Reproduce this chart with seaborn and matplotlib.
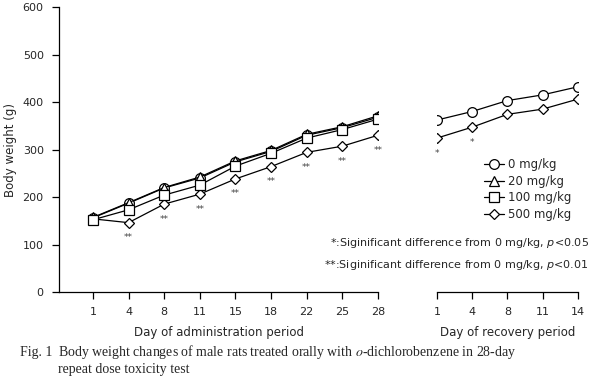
import matplotlib
matplotlib.use("Agg")
import matplotlib.pyplot as plt
import seaborn as sns
import numpy as np
from matplotlib.lines import Line2D

# ---------------- data ----------------
admin_days = ["1", "4", "8", "11", "15", "18", "22", "25", "28"]
recov_days = ["1", "4", "8", "11", "14"]

admin_0 = [156, 187, 219, 240, 274, 296, 330, 346, 368]
admin_20 = [157, 188, 220, 242, 276, 298, 332, 348, 371]
admin_100 = [152, 173, 204, 225, 265, 292, 324, 342, 364]
admin_500 = [154, 146, 185, 206, 238, 264, 294, 307, 330]

recov_0 = [362, 380, 403, 415, 432]
recov_500 = [324, 347, 374, 385, 406]

admin_sig_500 = ["", "**", "**", "**", "**", "**", "**", "**", "**"]
recov_sig_500 = ["*", "*", "", "", ""]

doses = ["0 mg/kg", "20 mg/kg", "100 mg/kg", "500 mg/kg"]
markers = {"0 mg/kg": "o", "20 mg/kg": "^", "100 mg/kg": "s", "500 mg/kg": "D"}
msizes = {"0 mg/kg": 7, "20 mg/kg": 7, "100 mg/kg": 6.5, "500 mg/kg": 5.5}

sns.set_theme(style="ticks")
plt.rcParams["font.family"] = ["DejaVu Sans"]

fig = plt.figure(figsize=(5.92, 3.81), dpi=100)
axL = fig.add_axes([0.0997, 0.2336, 0.5388, 0.748])
axR = fig.add_axes([0.738, 0.2336, 0.238, 0.748])

idxL = np.arange(len(admin_days))
idxR = np.arange(len(recov_days))

admin_series = {"0 mg/kg": admin_0, "20 mg/kg": admin_20,
                "100 mg/kg": admin_100, "500 mg/kg": admin_500}
recov_series = {"0 mg/kg": recov_0, "500 mg/kg": recov_500}

for d in ["500 mg/kg", "0 mg/kg", "20 mg/kg", "100 mg/kg"]:
    sns.lineplot(x=idxL, y=admin_series[d], ax=axL, color="black", lw=0.9,
                 marker=markers[d], markersize=msizes[d], markerfacecolor="white",
                 markeredgecolor="black", markeredgewidth=0.9)
for d in ["500 mg/kg", "0 mg/kg"]:
    sns.lineplot(x=idxR, y=recov_series[d], ax=axR, color="black", lw=0.9,
                 marker=markers[d], markersize=msizes[d], markerfacecolor="white",
                 markeredgecolor="black", markeredgewidth=0.9)

# significance marks
for i, s in enumerate(admin_sig_500):
    if s:
        axL.text(i, admin_500[i] - 22, s, ha="center", va="top", fontsize=6.5, color="#444444")
for i, s in enumerate(recov_sig_500):
    if s:
        axR.text(i, recov_500[i] - 22, s, ha="center", va="top", fontsize=6.5, color="#444444")

for ax in (axL, axR):
    ax.set_ylim(0, 600)
    ax.set_xlabel("")
    ax.set_ylabel("")
    ax.tick_params(axis="both", labelsize=8, length=5, width=0.9, color="black", pad=6)
    for sp in ax.spines.values():
        sp.set_linewidth(0.9)
        sp.set_color("black")

axL.set_xlim(-0.95, 8)
axL.set_xticks(idxL)
axL.set_xticklabels(admin_days)
axL.set_yticks(range(0, 601, 100))
axL.set_ylabel("Body weight (g)", fontsize=8.5, labelpad=4)
axL.spines["top"].set_visible(False)
axL.spines["right"].set_visible(False)
axL.set_xlabel("Day of administration period", fontsize=8.5, labelpad=6)

axR.set_xlim(0, 4)
axR.set_xticks(idxR)
axR.set_xticklabels(recov_days)
axR.set_yticks([])
for s in ["top", "right", "left"]:
    axR.spines[s].set_visible(False)
axR.set_xlabel("Day of recovery period", fontsize=8.5, labelpad=6)

handles = [Line2D([0], [0], color="black", lw=0.9, marker=markers[d], markersize=msizes[d],
                  markerfacecolor="white", markeredgecolor="black", markeredgewidth=0.9)
           for d in doses]
fig.legend(handles, doses, loc="upper left", bbox_to_anchor=(0.808, 0.6), frameon=False,
           fontsize=8.5, handlelength=1.7, handletextpad=0.3, labelspacing=0.3,
           borderpad=0)

fig.text(0.995, 0.362, r"*:Siginificant difference from 0 mg/kg, $p$<0.05",
         ha="right", va="center", fontsize=8)
fig.text(0.995, 0.305, r"**:Siginificant difference from 0 mg/kg, $p$<0.01",
         ha="right", va="center", fontsize=8)

fig.text(0.034, 0.075, "Fig. 1", fontsize=10, family="Liberation Serif", va="center")
fig.text(0.098, 0.075, r"Body weight changes of male rats treated orally with $o$-dichlorobenzene in 28-day",
         fontsize=10, family="Liberation Serif", va="center", math_fontfamily="stix")
fig.text(0.098, 0.03, "repeat dose toxicity test", fontsize=10, family="Liberation Serif", va="center")

fig.savefig("out.png", dpi=100)
